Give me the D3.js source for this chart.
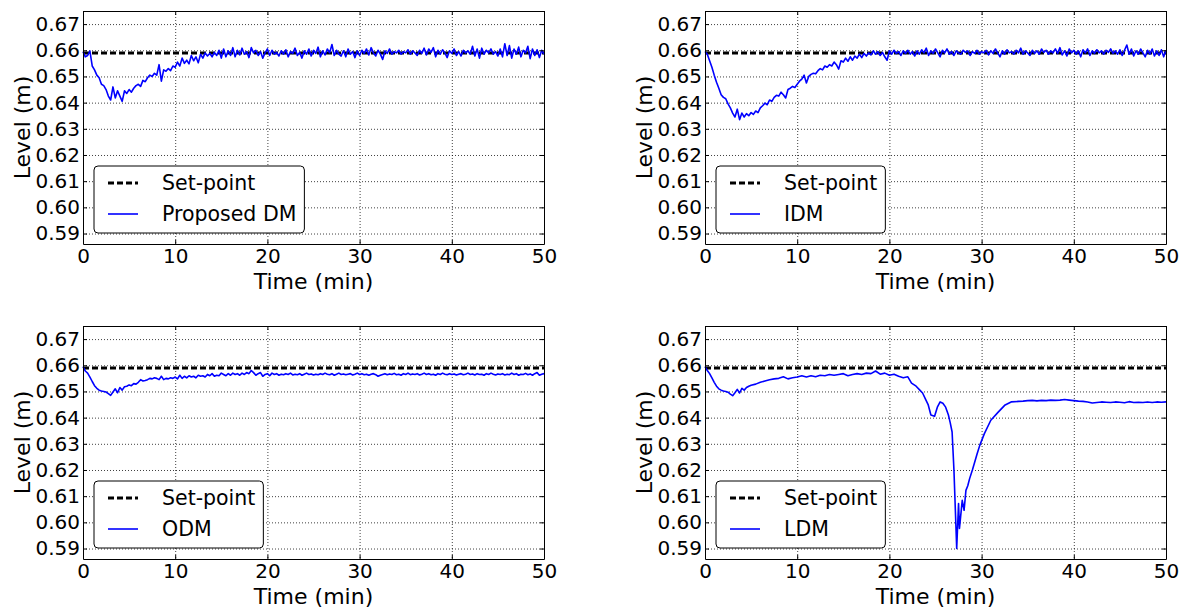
<!DOCTYPE html>
<html>
<head>
<meta charset="utf-8">
<script src="https://cdn.jsdelivr.net/npm/d3@7"></script>
<style>
  body { margin: 0; background: #fff; }
  text { font-family: "DejaVu Sans", sans-serif; fill: #000; }
</style>
</head>
<body>
<div id="chart"></div>
<script>
// ---- data ----
var setPoint = 0.659;
var sampleStep = 0.25; // min between samples of the first three runs
var xTicks = [0, 10, 20, 30, 40, 50];
var yTicks = [0.59, 0.60, 0.61, 0.62, 0.63, 0.64, 0.65, 0.66, 0.67];

// Proposed DM, one row = 2 min
var proposedLevel = [
    0.6595, 0.6575, 0.6580, 0.6597, 0.6540, 0.6525, 0.6505, 0.6495,
    0.6470, 0.6465, 0.6450, 0.6425, 0.6410, 0.6460, 0.6418, 0.6445,
    0.6425, 0.6405, 0.6445, 0.6435, 0.6450, 0.6440, 0.6455, 0.6465,
    0.6470, 0.6462, 0.6485, 0.6480, 0.6495, 0.6505, 0.6500, 0.6512,
    0.6505, 0.6545, 0.6482, 0.6525, 0.6520, 0.6530, 0.6522, 0.6540,
    0.6535, 0.6555, 0.6540, 0.6570, 0.6550, 0.6562, 0.6548, 0.6580,
    0.6560, 0.6575, 0.6552, 0.6585, 0.6570, 0.6590, 0.6578, 0.6588,
    0.6575, 0.6592, 0.6580, 0.6600, 0.6570, 0.6605, 0.6575, 0.6598,
    0.6580, 0.6610, 0.6575, 0.6600, 0.6582, 0.6608, 0.6585, 0.6595,
    0.6572, 0.6610, 0.6590, 0.6600, 0.6580, 0.6595, 0.6570, 0.6590,
    0.6605, 0.6580, 0.6600, 0.6585, 0.6592, 0.6578, 0.6598, 0.6585,
    0.6602, 0.6575, 0.6595, 0.6588, 0.6608, 0.6580, 0.6592, 0.6570,
    0.6598, 0.6585, 0.6605, 0.6578, 0.6600, 0.6588, 0.6612, 0.6575,
    0.6598, 0.6582, 0.6605, 0.6590, 0.6622, 0.6580, 0.6600, 0.6585,
    0.6578, 0.6598, 0.6575, 0.6605, 0.6585, 0.6595, 0.6572, 0.6598,
    0.6580, 0.6600, 0.6588, 0.6605, 0.6582, 0.6610, 0.6590, 0.6578,
    0.6600, 0.6585, 0.6565, 0.6598, 0.6588, 0.6605, 0.6585, 0.6595,
    0.6590, 0.6600, 0.6585, 0.6595, 0.6590, 0.6602, 0.6585, 0.6598,
    0.6590, 0.6580, 0.6600, 0.6588, 0.6608, 0.6582, 0.6605, 0.6592,
    0.6610, 0.6575, 0.6600, 0.6585, 0.6602, 0.6590, 0.6572, 0.6598,
    0.6588, 0.6605, 0.6580, 0.6595, 0.6578, 0.6600, 0.6590, 0.6598,
    0.6585, 0.6615, 0.6578, 0.6605, 0.6570, 0.6608, 0.6585, 0.6600,
    0.6590, 0.6605, 0.6585, 0.6595, 0.6578, 0.6605, 0.6575, 0.6625,
    0.6580, 0.6618, 0.6570, 0.6605, 0.6585, 0.6612, 0.6575, 0.6600,
    0.6590, 0.6615, 0.6568, 0.6605, 0.6580, 0.6602, 0.6572, 0.6600,
    0.6585
];

var idmLevel = [
    0.6595, 0.6585, 0.6560, 0.6535, 0.6505, 0.6478, 0.6455, 0.6430,
    0.6420, 0.6415, 0.6395, 0.6380, 0.6360, 0.6345, 0.6375, 0.6335,
    0.6360, 0.6345, 0.6358, 0.6350, 0.6362, 0.6355, 0.6368, 0.6362,
    0.6380, 0.6388, 0.6398, 0.6392, 0.6410, 0.6405, 0.6420, 0.6428,
    0.6425, 0.6440, 0.6430, 0.6418, 0.6450, 0.6455, 0.6462, 0.6458,
    0.6470, 0.6482, 0.6490, 0.6505, 0.6475, 0.6500, 0.6508, 0.6512,
    0.6510, 0.6522, 0.6530, 0.6525, 0.6540, 0.6535, 0.6545, 0.6540,
    0.6555, 0.6545, 0.6528, 0.6560, 0.6555, 0.6570, 0.6558, 0.6575,
    0.6562, 0.6578, 0.6570, 0.6585, 0.6572, 0.6588, 0.6578, 0.6590,
    0.6582, 0.6598, 0.6585, 0.6595, 0.6580, 0.6592, 0.6575, 0.6562,
    0.6598, 0.6585, 0.6600, 0.6588, 0.6595, 0.6580, 0.6598, 0.6588,
    0.6600, 0.6585, 0.6595, 0.6578, 0.6598, 0.6585, 0.6602, 0.6590,
    0.6608, 0.6580, 0.6598, 0.6588, 0.6605, 0.6590, 0.6575, 0.6600,
    0.6590, 0.6605, 0.6585, 0.6595, 0.6580, 0.6598, 0.6590, 0.6585,
    0.6600, 0.6592, 0.6598, 0.6580, 0.6595, 0.6588, 0.6600, 0.6585,
    0.6595, 0.6590, 0.6600, 0.6582, 0.6598, 0.6588, 0.6605, 0.6590,
    0.6575, 0.6598, 0.6585, 0.6602, 0.6590, 0.6595, 0.6585, 0.6600,
    0.6590, 0.6608, 0.6585, 0.6598, 0.6590, 0.6580, 0.6600, 0.6588,
    0.6598, 0.6585, 0.6605, 0.6592, 0.6600, 0.6585, 0.6598, 0.6590,
    0.6605, 0.6588, 0.6610, 0.6582, 0.6598, 0.6578, 0.6605, 0.6590,
    0.6600, 0.6585, 0.6598, 0.6575, 0.6602, 0.6590, 0.6605, 0.6580,
    0.6598, 0.6588, 0.6602, 0.6590, 0.6598, 0.6585, 0.6600, 0.6592,
    0.6605, 0.6588, 0.6598, 0.6585, 0.6602, 0.6580, 0.6600, 0.6620,
    0.6585, 0.6605, 0.6578, 0.6598, 0.6585, 0.6605, 0.6590, 0.6575,
    0.6600, 0.6585, 0.6605, 0.6578, 0.6598, 0.6580, 0.6602, 0.6575,
    0.6600
];

var odmLevel = [
    0.6595, 0.6578, 0.6570, 0.6555, 0.6538, 0.6522, 0.6512, 0.6505,
    0.6502, 0.6500, 0.6498, 0.6492, 0.6485, 0.6498, 0.6510, 0.6495,
    0.6515, 0.6505, 0.6518, 0.6520, 0.6525, 0.6522, 0.6530, 0.6528,
    0.6535, 0.6545, 0.6540, 0.6542, 0.6545, 0.6550, 0.6548, 0.6552,
    0.6550, 0.6545, 0.6558, 0.6545, 0.6550, 0.6548, 0.6552, 0.6550,
    0.6555, 0.6548, 0.6562, 0.6550, 0.6558, 0.6552, 0.6560, 0.6555,
    0.6558, 0.6552, 0.6562, 0.6558, 0.6560, 0.6555, 0.6565, 0.6560,
    0.6568, 0.6558, 0.6562, 0.6560, 0.6570, 0.6565, 0.6560, 0.6568,
    0.6562, 0.6570, 0.6565, 0.6568, 0.6562, 0.6570, 0.6565, 0.6572,
    0.6568, 0.6580, 0.6572, 0.6562, 0.6568, 0.6572, 0.6558, 0.6565,
    0.6568, 0.6560, 0.6570, 0.6565, 0.6568, 0.6562, 0.6566, 0.6564,
    0.6568, 0.6565, 0.6570, 0.6563, 0.6566, 0.6564, 0.6568, 0.6562,
    0.6566, 0.6570, 0.6565, 0.6567, 0.6563, 0.6566, 0.6564, 0.6568,
    0.6565, 0.6570, 0.6566, 0.6564, 0.6568, 0.6562, 0.6566, 0.6570,
    0.6565, 0.6567, 0.6564, 0.6566, 0.6568, 0.6563, 0.6566, 0.6570,
    0.6565, 0.6568, 0.6564, 0.6566, 0.6562, 0.6566, 0.6568, 0.6564,
    0.6558, 0.6562, 0.6565, 0.6568, 0.6564, 0.6567, 0.6565, 0.6569,
    0.6564, 0.6566, 0.6562, 0.6568, 0.6565, 0.6570, 0.6564, 0.6567,
    0.6565, 0.6568, 0.6563, 0.6566, 0.6570, 0.6565, 0.6568, 0.6564,
    0.6566, 0.6562, 0.6568, 0.6565, 0.6570, 0.6566, 0.6564, 0.6568,
    0.6565, 0.6567, 0.6563, 0.6566, 0.6568, 0.6564, 0.6566, 0.6570,
    0.6565, 0.6567, 0.6563, 0.6568, 0.6565, 0.6566, 0.6562, 0.6568,
    0.6565, 0.6570, 0.6566, 0.6563, 0.6567, 0.6565, 0.6568, 0.6563,
    0.6566, 0.6564, 0.6570, 0.6565, 0.6568, 0.6562, 0.6566, 0.6565,
    0.6569, 0.6564, 0.6567, 0.6562, 0.6568, 0.6572, 0.6562, 0.6566,
    0.6568
];

// LDM has irregular samples (denser around the dip)
var ldmTime = [
    0, 0.25, 0.5, 0.75, 1, 1.25, 1.5, 1.75, 2, 2.25, 2.5, 2.75, 3, 3.25, 3.5, 3.75,
    4, 4.25, 4.5, 4.75, 5, 5.5, 6, 6.5, 7, 7.5, 8, 8.5, 9, 9.5, 10, 10.5,
    11, 11.5, 12, 12.5, 13, 13.5, 14, 14.5, 15, 15.5, 16, 16.5, 17, 17.5, 18, 18.5,
    19, 19.5, 20, 20.5, 21, 21.5, 22, 22.4, 22.9, 23.3, 23.6, 23.9, 24.2, 24.5,
    24.9, 25.2, 25.5, 25.8, 26.1, 26.4, 26.6, 26.8, 27.0, 27.1, 27.3, 27.5, 27.6, 27.9,
    28.1, 28.3, 28.5, 28.7, 29.0, 29.2, 29.5, 29.8, 30.3, 31.0, 31.8, 32.5, 33.2, 34.0,
    34.5, 35, 35.5, 36, 36.5, 37, 37.5, 38, 38.5, 39, 39.5, 40, 40.5, 41, 41.5, 42,
    42.5, 43, 43.5, 44, 44.5, 45, 45.5, 46, 46.5, 47, 47.5, 48, 48.5, 49, 49.5, 50
];
var ldmLevel = [
    0.6595, 0.6580, 0.6568, 0.6552, 0.6535, 0.6520, 0.6510, 0.6505, 0.6502, 0.6500, 0.6497, 0.6490, 0.6484, 0.6495, 0.6508, 0.6494,
    0.6512, 0.6505, 0.6515, 0.6520, 0.6524, 0.6528, 0.6535, 0.6540, 0.6545, 0.6548, 0.6550, 0.6556, 0.6548, 0.6552, 0.6555, 0.6560,
    0.6555, 0.6560, 0.6556, 0.6562, 0.6560, 0.6565, 0.6562, 0.6565, 0.6568, 0.6560, 0.6565, 0.6568, 0.6565, 0.6570, 0.6568, 0.6578,
    0.6566, 0.6570, 0.6562, 0.6566, 0.6558, 0.6552, 0.6556, 0.6532, 0.6520, 0.6505, 0.6494, 0.6472, 0.6450, 0.6410,
    0.6405, 0.6440, 0.6460, 0.6455, 0.6440, 0.6410, 0.6380, 0.6345, 0.6200, 0.6100, 0.5900, 0.6072, 0.5977, 0.6084,
    0.6046, 0.6122, 0.6140, 0.6167, 0.6200, 0.6224, 0.6260, 0.6294, 0.6339, 0.6390, 0.6421, 0.6447, 0.6460, 0.6462,
    0.6463, 0.6465, 0.6466, 0.6464, 0.6466, 0.6465, 0.6467, 0.6466, 0.6467, 0.6469, 0.6467, 0.6465, 0.6463, 0.6462, 0.6460, 0.6456,
    0.6458, 0.6460, 0.6459, 0.6458, 0.6460, 0.6459, 0.6457, 0.6461, 0.6458, 0.6459, 0.6458, 0.6460, 0.6458, 0.6460, 0.6459, 0.6460
];

function sampled(level) {
    return level.map(function (v, i) { return { t: i * sampleStep, v: v }; });
}

var panels = [
    { name: "Proposed DM", left: 83, top: 11, data: sampled(proposedLevel) },
    { name: "IDM", left: 705, top: 11, data: sampled(idmLevel) },
    { name: "ODM", left: 83, top: 326, data: sampled(odmLevel) },
    { name: "LDM", left: 705, top: 326, data: ldmTime.map(function (t, i) { return { t: t, v: ldmLevel[i] }; }) }
];

// ---- layout ----
var svgWidth = 1190;
var svgHeight = 610;
var width = 461;
var height = 233;

var svg = d3.select("#chart")
    .append("svg")
    .attr("width", svgWidth)
    .attr("height", svgHeight)
    .style("display", "block");

svg.append("rect").attr("width", svgWidth).attr("height", svgHeight).attr("fill", "#fff");

var xScale = d3.scaleLinear().domain([0, 50]).range([0, width]);
var yScale = d3.scaleLinear().domain([0.586, 0.675]).range([height, 0]);

function drawPanel(p) {
    var g = svg.append("g").attr("transform", `translate(${p.left}, ${p.top})`);

    // dotted grid
    var gx = g.append("g")
        .call(d3.axisBottom(xScale).tickValues(xTicks).tickSize(height).tickFormat(""));
    var gy = g.append("g")
        .call(d3.axisLeft(yScale).tickValues(yTicks).tickSize(-width).tickFormat(""));
    [gx, gy].forEach(function (a) {
        a.select(".domain").remove();
        a.selectAll("line")
            .attr("stroke", "#000")
            .attr("stroke-opacity", 0.75)
            .attr("stroke-width", 1)
            .attr("stroke-dasharray", "1,2");
    });

    var line = d3.line().x(d => xScale(d.t)).y(d => yScale(d.v));

    // set-point
    g.append("path")
        .datum([{ t: 0, v: setPoint }, { t: 50, v: setPoint }])
        .attr("d", line)
        .attr("fill", "none")
        .attr("stroke", "#000")
        .attr("stroke-width", 3)
        .attr("stroke-dasharray", "6,3");

    // level
    g.append("path")
        .datum(p.data)
        .attr("d", line)
        .attr("fill", "none")
        .attr("stroke", "#0000ff")
        .attr("stroke-width", 1.6)
        .attr("stroke-linejoin", "round");

    // axes, ticks pointing inwards on all four sides
    var left = g.append("g")
        .call(d3.axisLeft(yScale).tickValues(yTicks).tickSize(-4).tickSizeOuter(0).tickPadding(3)
            .tickFormat(d3.format(".2f")));
    var bottom = g.append("g")
        .attr("transform", `translate(0, ${height})`)
        .call(d3.axisBottom(xScale).tickValues(xTicks).tickSize(-4).tickSizeOuter(0).tickPadding(5));
    var right = g.append("g")
        .attr("transform", `translate(${width}, 0)`)
        .call(d3.axisRight(yScale).tickValues(yTicks).tickSize(-4).tickSizeOuter(0).tickFormat(""));
    var topAxis = g.append("g")
        .call(d3.axisTop(xScale).tickValues(xTicks).tickSize(-4).tickSizeOuter(0).tickFormat(""));
    [left, bottom, right, topAxis].forEach(function (a) {
        a.select(".domain").attr("stroke", "#000").attr("stroke-width", 1);
        a.selectAll("line").attr("stroke", "#000");
        a.selectAll("text")
            .style("font-family", "'DejaVu Sans', sans-serif")
            .style("font-size", "20px");
    });

    g.append("text")
        .attr("transform", `translate(-53.5, ${height / 2}) rotate(-90)`)
        .attr("text-anchor", "middle")
        .style("font-size", "22px")
        .text("Level (m)");

    g.append("text")
        .attr("x", width / 2)
        .attr("y", 278)
        .attr("text-anchor", "middle")
        .style("font-size", "22px")
        .text("Time (min)");

    // legend
    var lg = g.append("g").attr("transform", "translate(11, 155)");
    var box = lg.append("rect")
        .attr("height", 67)
        .attr("rx", 4)
        .attr("fill", "#fff")
        .attr("stroke", "#000")
        .attr("stroke-width", 1);

    var entries = [
        { label: "Set-point", color: "#000", w: 3, dash: "6,3", y: 17 },
        { label: p.name, color: "#0000ff", w: 1.6, dash: null, y: 48 }
    ];
    var maxLen = 0;
    entries.forEach(function (e) {
        lg.append("line")
            .attr("x1", 14).attr("x2", 44)
            .attr("y1", e.y).attr("y2", e.y)
            .attr("stroke", e.color)
            .attr("stroke-width", e.w)
            .attr("stroke-dasharray", e.dash);
        var t = lg.append("text")
            .attr("x", 68)
            .attr("y", e.y + 7)
            .style("font-size", "20.5px")
            .text(e.label);
        maxLen = Math.max(maxLen, t.node().getComputedTextLength());
    });
    box.attr("width", 68 + maxLen + 8);
}

panels.forEach(drawPanel);
</script>
</body>
</html>
